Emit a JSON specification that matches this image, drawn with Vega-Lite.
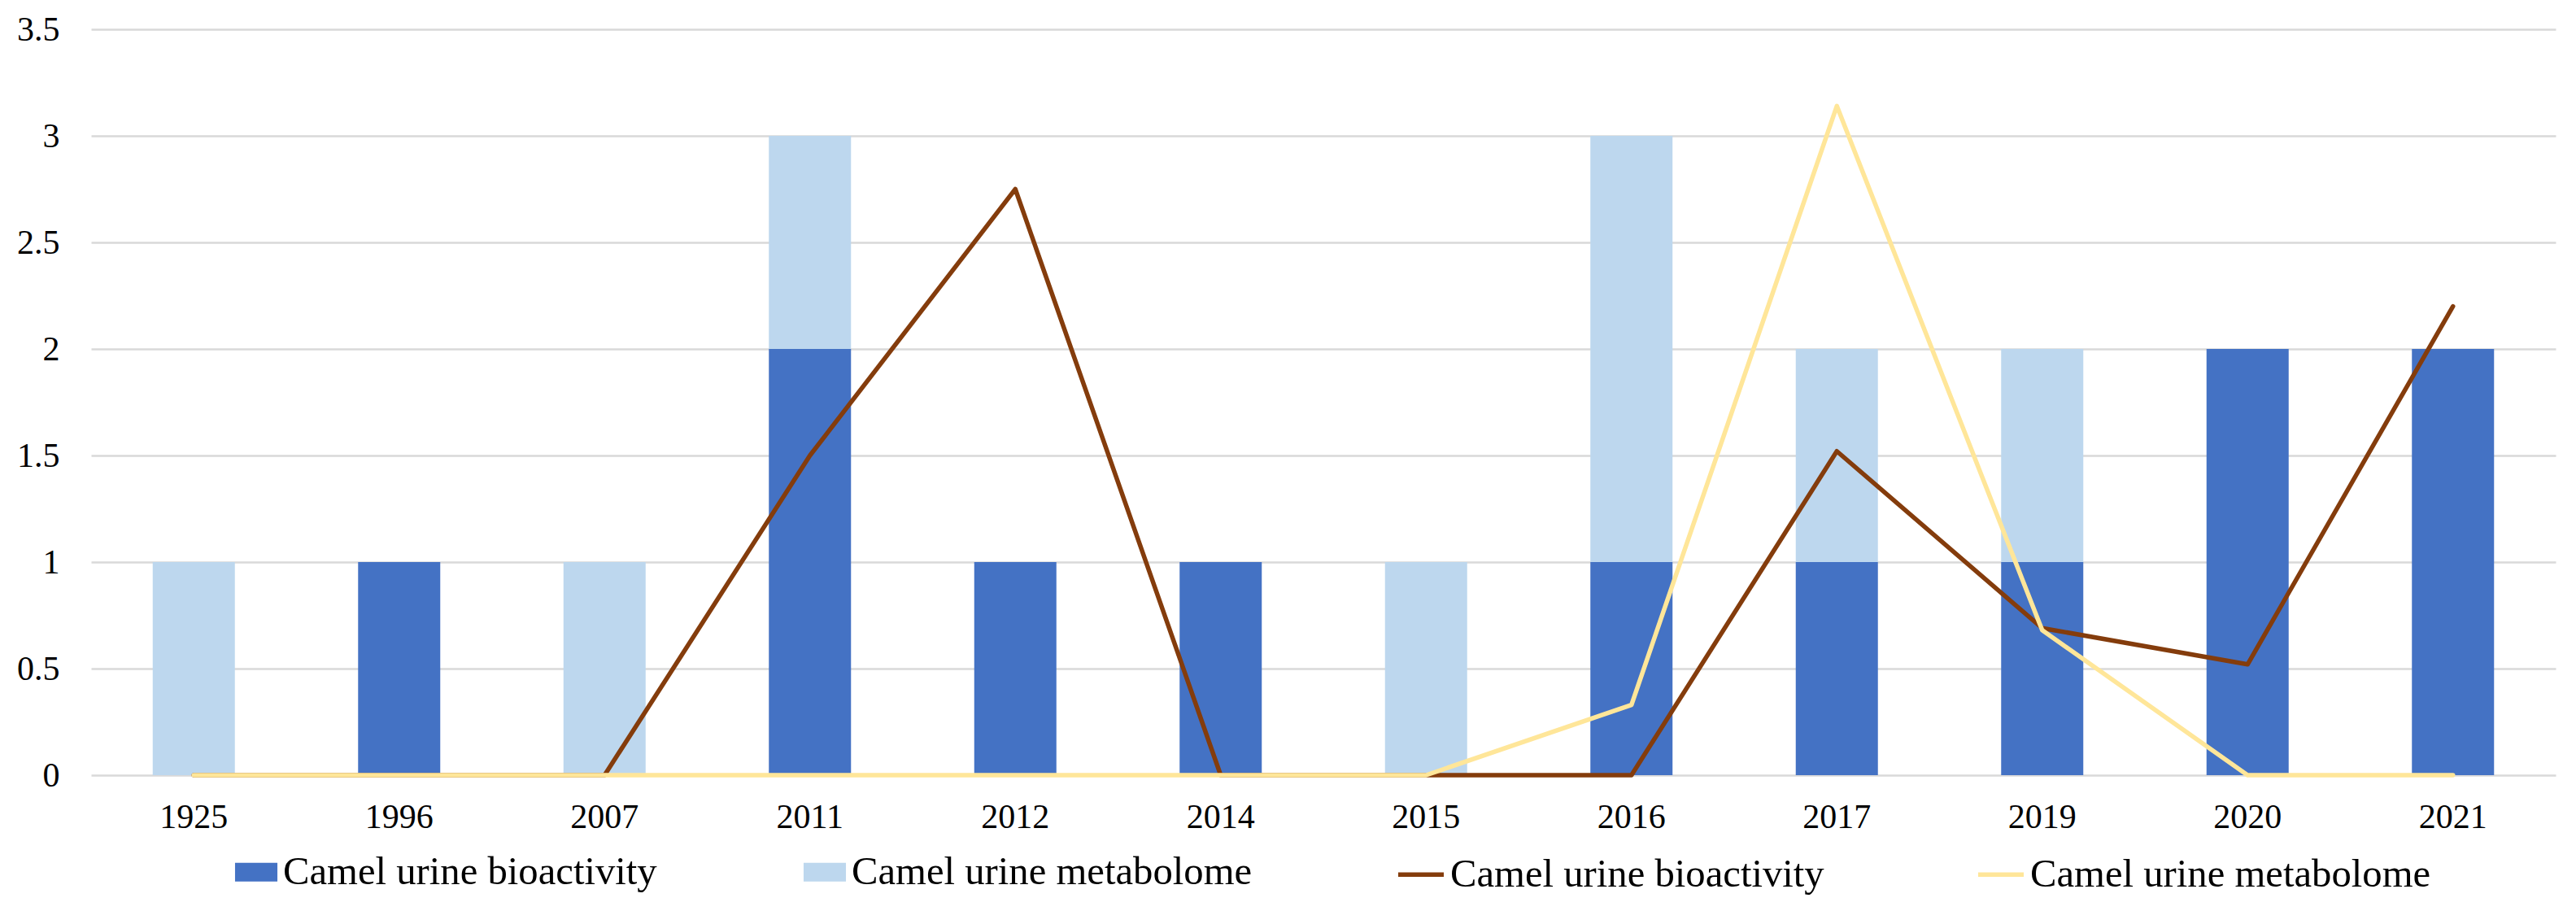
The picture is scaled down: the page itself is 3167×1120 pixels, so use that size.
{
  "$schema": "https://vega.github.io/schema/vega-lite/v6.json",
  "width": 3030,
  "height": 917,
  "autosize": {"type": "none"},
  "padding": {"left": 112, "top": 36, "right": 25, "bottom": 167},
  "background": "white",
  "config": {
    "view": {"stroke": null},
    "font": "Liberation Serif"
  },
  "datasets": {
    "bars": [
      {"year": "1925", "series": "bar_bio", "count": 0},
      {"year": "1925", "series": "bar_meta", "count": 1},
      {"year": "1996", "series": "bar_bio", "count": 1},
      {"year": "1996", "series": "bar_meta", "count": 0},
      {"year": "2007", "series": "bar_bio", "count": 0},
      {"year": "2007", "series": "bar_meta", "count": 1},
      {"year": "2011", "series": "bar_bio", "count": 2},
      {"year": "2011", "series": "bar_meta", "count": 1},
      {"year": "2012", "series": "bar_bio", "count": 1},
      {"year": "2012", "series": "bar_meta", "count": 0},
      {"year": "2014", "series": "bar_bio", "count": 1},
      {"year": "2014", "series": "bar_meta", "count": 0},
      {"year": "2015", "series": "bar_bio", "count": 0},
      {"year": "2015", "series": "bar_meta", "count": 1},
      {"year": "2016", "series": "bar_bio", "count": 1},
      {"year": "2016", "series": "bar_meta", "count": 2},
      {"year": "2017", "series": "bar_bio", "count": 1},
      {"year": "2017", "series": "bar_meta", "count": 1},
      {"year": "2019", "series": "bar_bio", "count": 1},
      {"year": "2019", "series": "bar_meta", "count": 1},
      {"year": "2020", "series": "bar_bio", "count": 2},
      {"year": "2020", "series": "bar_meta", "count": 0},
      {"year": "2021", "series": "bar_bio", "count": 2},
      {"year": "2021", "series": "bar_meta", "count": 0}
    ],
    "lines": [
      {"year": "1925", "series": "line_bio", "value": 0},
      {"year": "1996", "series": "line_bio", "value": 0},
      {"year": "2007", "series": "line_bio", "value": 0},
      {"year": "2011", "series": "line_bio", "value": 1.5},
      {"year": "2012", "series": "line_bio", "value": 2.75},
      {"year": "2014", "series": "line_bio", "value": 0},
      {"year": "2015", "series": "line_bio", "value": 0},
      {"year": "2016", "series": "line_bio", "value": 0},
      {"year": "2017", "series": "line_bio", "value": 1.52},
      {"year": "2019", "series": "line_bio", "value": 0.69},
      {"year": "2020", "series": "line_bio", "value": 0.52},
      {"year": "2021", "series": "line_bio", "value": 2.2},
      {"year": "1925", "series": "line_meta", "value": 0},
      {"year": "1996", "series": "line_meta", "value": 0},
      {"year": "2007", "series": "line_meta", "value": 0},
      {"year": "2011", "series": "line_meta", "value": 0},
      {"year": "2012", "series": "line_meta", "value": 0},
      {"year": "2014", "series": "line_meta", "value": 0},
      {"year": "2015", "series": "line_meta", "value": 0},
      {"year": "2016", "series": "line_meta", "value": 0.33},
      {"year": "2017", "series": "line_meta", "value": 3.14},
      {"year": "2019", "series": "line_meta", "value": 0.68},
      {"year": "2020", "series": "line_meta", "value": 0},
      {"year": "2021", "series": "line_meta", "value": 0}
    ]
  },
  "encoding": {
    "x": {
      "field": "year",
      "type": "ordinal",
      "scale": {"paddingInner": 0.6, "paddingOuter": 0.3},
      "axis": {
        "title": null,
        "labelAngle": 0,
        "labelFontSize": 42,
        "labelFont": "Liberation Serif",
        "labelColor": "#000000",
        "labelPadding": 31,
        "ticks": false,
        "tickSize": 0,
        "domain": false,
        "grid": false
      }
    }
  },
  "layer": [
    {
      "data": {"name": "bars"},
      "mark": {"type": "bar"},
      "encoding": {
        "y": {
          "field": "count",
          "type": "quantitative",
          "stack": "zero",
          "scale": {"domain": [0, 3.5]},
          "axis": {
            "title": null,
            "values": [0, 0.5, 1, 1.5, 2, 2.5, 3, 3.5],
            "format": "~g",
            "labelFontSize": 42,
            "labelFont": "Liberation Serif",
            "labelColor": "#000000",
            "labelPadding": 39,
            "ticks": false,
            "tickSize": 0,
            "domain": false,
            "grid": true,
            "gridColor": "#D9D9D9",
            "gridWidth": 2.5
          }
        },
        "fill": {
          "field": "series",
          "type": "nominal",
          "scale": {
            "domain": ["bar_bio", "bar_meta"],
            "range": ["#4472C4", "#BDD7EE"]
          },
          "legend": {
            "orient": "none",
            "legendX": 175,
            "legendY": 1008,
            "direction": "horizontal",
            "columns": 2,
            "columnPadding": 178,
            "title": null,
            "padding": 0,
            "labelFontSize": 48.7,
            "labelFont": "Liberation Serif",
            "labelColor": "#000000",
            "labelLimit": 1000,
            "labelOffset": 5,
            "symbolSize": 3136,
            "symbolType": "M-0.93,-0.41H0.93V0.41H-0.93Z",
            "symbolStrokeWidth": 0,
            "symbolOpacity": 1,
            "labelExpr": "indexof(datum.label, 'bio') >= 0 ? 'Camel urine bioactivity' : 'Camel urine metabolome'"
          }
        },
        "order": {"field": "series", "sort": "ascending"}
      }
    },
    {
      "data": {"name": "lines"},
      "transform": [{"filter": "datum.series == 'line_bio'"}],
      "mark": {"type": "line", "strokeWidth": 5.5, "strokeJoin": "round", "strokeCap": "round"},
      "encoding": {
        "y": {"field": "value", "type": "quantitative"},
        "stroke": {
          "field": "series",
          "type": "nominal",
          "scale": {
            "domain": ["line_bio", "line_meta"],
            "range": ["#843C0C", "#FFE699"]
          },
          "legend": {
            "orient": "none",
            "legendX": 1604,
            "legendY": 1008,
            "direction": "horizontal",
            "columns": 2,
            "columnPadding": 178,
            "title": null,
            "padding": 0,
            "labelFontSize": 48.7,
            "labelFont": "Liberation Serif",
            "labelColor": "#000000",
            "labelLimit": 1000,
            "labelOffset": 5,
            "symbolSize": 3136,
            "symbolType": "stroke",
            "symbolStrokeWidth": 5.5,
            "symbolOpacity": 1,
            "labelExpr": "indexof(datum.label, 'bio') >= 0 ? 'Camel urine bioactivity' : 'Camel urine metabolome'"
          }
        }
      }
    },
    {
      "data": {"name": "lines"},
      "transform": [{"filter": "datum.series == 'line_meta'"}],
      "mark": {"type": "line", "strokeWidth": 5.5, "strokeJoin": "round", "strokeCap": "round"},
      "encoding": {
        "y": {"field": "value", "type": "quantitative"},
        "stroke": {"field": "series", "type": "nominal"}
      }
    }
  ]
}
